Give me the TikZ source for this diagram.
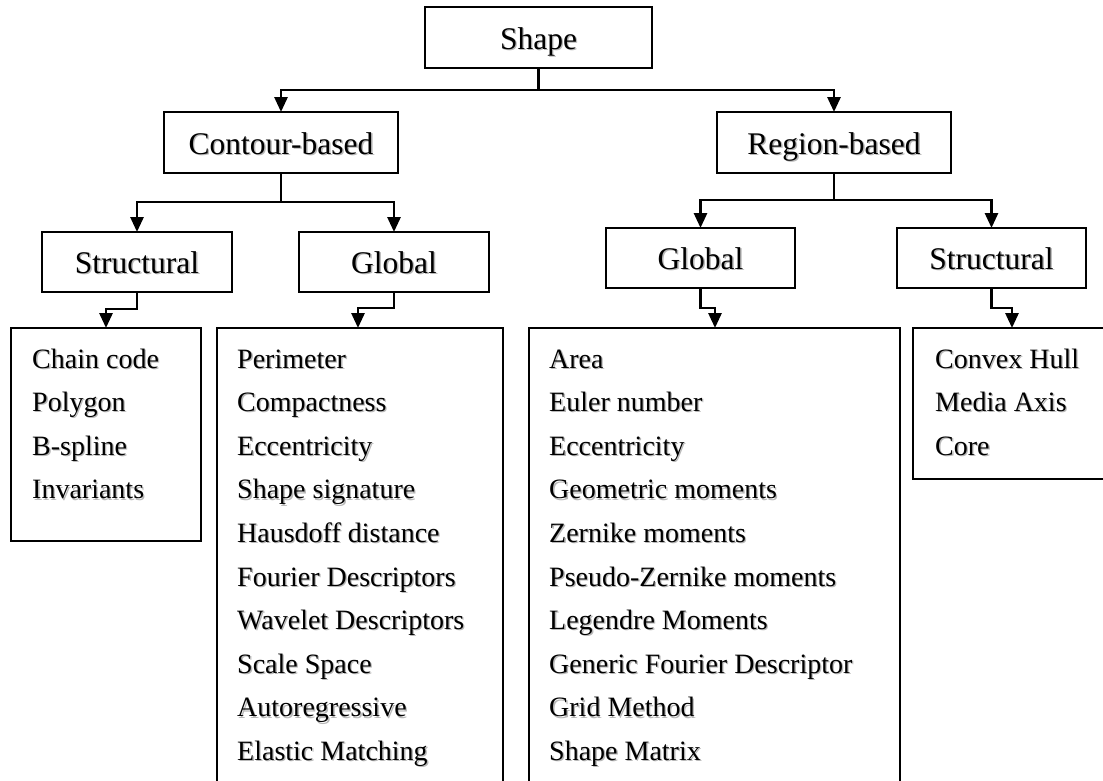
\documentclass[tikz,border=0pt]{standalone}
\usepackage{fontspec}
\setmainfont{Liberation Serif}
\usetikzlibrary{arrows.meta}

% labelled box: shadow copy of the text first, then the framed node on top
% #1 name, #2 centre, #3 width, #4 height, #5 text
\newcommand\headbox[5]{%
  \node[headshadow] at (#2) {#5};
  \node[headbox, minimum width=#3, minimum height=#4] (#1) at (#2) {#5};}
% one entry of a list, placed by its baseline
\newcommand\listitem[3]{%
  \node[itemshadow] at (#2) {#3};
  \node[itemtext] (#1) at (#2) {#3};}

\begin{document}
\begin{tikzpicture}[x=1pt,y=-1pt,
  frame/.style={draw, line width=2.2pt, rectangle, inner sep=0pt, outer sep=0pt},
  headfont/.style={font=\fontsize{31.5}{36}\selectfont, text height=23pt, text depth=0pt},
  headbox/.style={frame, headfont},
  headshadow/.style={rectangle, inner sep=0pt, headfont, text=black!28, xshift=1.4pt, yshift=-1.4pt},
  itemfont/.style={font=\fontsize{28}{32}\selectfont, anchor=base west, inner sep=0pt},
  itemtext/.style={itemfont},
  itemshadow/.style={itemfont, text=black!28, xshift=1.3pt, yshift=-1.3pt},
  listbox/.style={frame},
  bar/.style={line width=2.8pt},
  conn/.style={bar, -{Triangle[width=13pt,length=15pt]}}]

\useasboundingbox (0,0) rectangle (1103,780);
\fill[white] (0,0) rectangle (1103,780);
\clip (0,0) rectangle (1103,780);

% ---- headings ----
\headbox{shape}{538.5,37.5}{227pt}{61pt}{Shape}
\headbox{contour}{281,142.5}{234pt}{61pt}{Contour-based}
\headbox{region}{834,142.5}{234pt}{61pt}{Region-based}

\headbox{cstruct}{137,262}{190pt}{60pt}{Structural}
\headbox{cglobal}{394,262}{190pt}{60pt}{Global}
\headbox{rglobal}{700.5,258}{189pt}{60pt}{Global}
\headbox{rstruct}{991.5,258}{189pt}{60pt}{Structural}

% ---- list boxes (the long ones run past the lower edge) ----
\node[listbox, minimum width=190pt, minimum height=213pt] (cstructlist) at (106,434.5) {};
\node[listbox, minimum width=286pt, minimum height=472pt] (cgloballist) at (360,564) {};
\node[listbox, minimum width=371pt, minimum height=472pt] (rgloballist) at (714.5,564) {};
\node[listbox, minimum width=207pt, minimum height=151pt] (rstructlist) at (1016.5,403.5) {};

% ---- list entries ----
\foreach \t [count=\i] in {Chain code, Polygon, B-spline, Invariants}
  {\listitem{cs\i}{32,{368+(\i-1)*43.6}}{\t}}
\foreach \t [count=\i] in {Perimeter, Compactness, Eccentricity, Shape signature,
    Hausdoff distance, Fourier Descriptors, Wavelet Descriptors, Scale Space,
    Autoregressive, Elastic Matching}
  {\listitem{cg\i}{237,{368+(\i-1)*43.6}}{\t}}
\foreach \t [count=\i] in {Area, Euler number, Eccentricity, Geometric moments,
    Zernike moments, Pseudo-Zernike moments, Legendre Moments,
    Generic Fourier Descriptor, Grid Method, Shape Matrix}
  {\listitem{rg\i}{549,{368+(\i-1)*43.6}}{\t}}
\foreach \t [count=\i] in {Convex Hull, Media Axis, Core}
  {\listitem{rs\i}{935,{368+(\i-1)*43.6}}{\t}}

% ---- junction points ----
\coordinate (sj) at (538.5,90);
\coordinate (cj) at (281,202);
\coordinate (rj) at (834,200);
\coordinate (csj) at (106,309);
\coordinate (cgj) at (358,308);
\coordinate (rgj) at (715,308);
\coordinate (rsj) at (1012,308);

% ---- connectors ----
\draw[bar] (shape.south) -- (sj);
\draw[conn] (sj) -| (contour.north);
\draw[conn] (sj) -| (region.north);

\draw[bar] (contour.south) -- (cj);
\draw[conn] (cj) -| (cstruct.north);
\draw[conn] (cj) -| (cglobal.north);

\draw[bar] (region.south) -- (rj);
\draw[conn] (rj) -| (rglobal.north);
\draw[conn] (rj) -| (rstruct.north);

\draw[conn] (cstruct.south) |- (csj) -- (csj |- cstructlist.north);
\draw[conn] (cglobal.south) |- (cgj) -- (cgj |- cgloballist.north);
\draw[conn] (rglobal.south) |- (rgj) -- (rgj |- rgloballist.north);
\draw[conn] (rstruct.south) |- (rsj) -- (rsj |- rstructlist.north);
\end{tikzpicture}
\end{document}
